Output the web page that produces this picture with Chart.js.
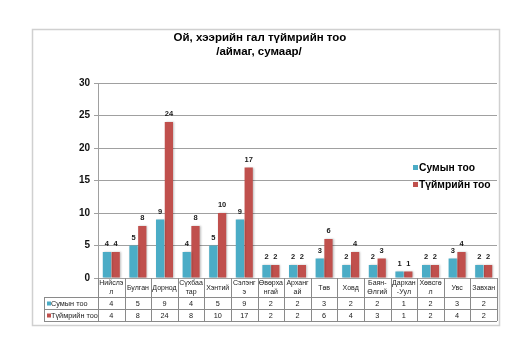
<!DOCTYPE html>
<html><head><meta charset="utf-8">
<script src="https://cdn.jsdelivr.net/npm/chart.js@4"></script>
<style>html,body{margin:0;padding:0;background:#fff}canvas{display:block}</style>
</head><body>
<canvas id="c" width="532" height="353"></canvas>
<script>
const titleLines = ['Ой, хээрийн гал түймрийн тоо', '/аймаг, сумаар/'];
const categories = [['Нийслэ','л'],['Булган'],['Дорнод'],['Сүхбаа','тар'],['Хэнтий'],['Сэлэнг','э'],['Өвөрха','нгай'],['Арханг','ай'],['Төв'],['Ховд'],['Баян-','Өлгий'],['Дархан','-Уул'],['Хөвсгө','л'],['Увс'],['Завхан']];
const seriesNames = ['Сумын тоо','Түймрийн тоо'];
const sumCounts = [4,5,9,4,5,9,2,2,3,2,2,1,2,3,2];
const fireCounts = [4,8,24,8,10,17,2,2,6,4,3,1,2,4,2];
const yMin = 0, yMax = 30, yStep = 5;
const seriesColors = ['#4BACC6','#C0504D'];
const seriesValues = [sumCounts, fireCounts];

const FONT = 'Arial, "Liberation Sans", sans-serif';

const decorPlugin = {
  id: 'decor',
  beforeDraw(chart) {
    const ctx = chart.ctx;
    ctx.save();
    ctx.fillStyle = '#fff';
    ctx.fillRect(0, 0, chart.width, chart.height);
    ctx.strokeStyle = '#d0d0d0';
    ctx.lineWidth = 1.5;
    ctx.strokeRect(32.5, 29.5, 467, 296);
    ctx.restore();
  },
  beforeDatasetsDraw(chart) {
    const ctx = chart.ctx;
    ctx.save();
    ctx.shadowColor = 'rgba(0,0,0,0.25)';
    ctx.shadowBlur = 2;
    ctx.shadowOffsetX = 1;
    ctx.shadowOffsetY = 0;
  },
  afterDatasetsDraw(chart) {
    const ctx = chart.ctx;
    ctx.restore();
    ctx.save();
    ctx.font = 'bold 7.5px ' + FONT;
    ctx.fillStyle = '#1a1a1a';
    ctx.textAlign = 'center';
    ctx.textBaseline = 'middle';
    chart.data.datasets.forEach((ds, di) => {
      const meta = chart.getDatasetMeta(di);
      meta.data.forEach((bar, i) => {
        ctx.fillText(String(ds.data[i]), bar.x, bar.y - 8);
      });
    });
    ctx.restore();
  },
  afterDraw(chart) {
    const ctx = chart.ctx;
    const area = chart.chartArea;
    const xs = chart.scales.x;
    const n = categories.length;
    const colW = (area.right - area.left) / n;
    const catTop = area.bottom;
    const catBot = catTop + 19;
    const r1Bot = catBot + 12;
    const r2Bot = r1Bot + 12;
    const tableLeft = 44;
    ctx.save();
    // title
    ctx.fillStyle = '#000';
    ctx.textAlign = 'center';
    ctx.textBaseline = 'middle';
    ctx.font = 'bold 11.5px ' + FONT;
    ctx.fillText(titleLines[0], 260, 38);
    ctx.fillText(titleLines[1], 259, 52);
    // legend
    ctx.textAlign = 'left';
    ctx.font = 'bold 10.3px ' + FONT;
    seriesNames.forEach((name, i) => {
      const y = 168 + i * 17;
      ctx.fillStyle = seriesColors[i];
      ctx.fillRect(413, y - 3, 5, 5);
      ctx.fillStyle = '#000';
      ctx.fillText(name, 419, y);
    });
    // table lines
    ctx.strokeStyle = '#8a8a8a';
    ctx.lineWidth = 1;
    ctx.beginPath();
    [catBot, r1Bot, r2Bot].forEach(y => {
      ctx.moveTo(tableLeft, Math.round(y) + 0.5);
      ctx.lineTo(area.right, Math.round(y) + 0.5);
    });
    ctx.moveTo(tableLeft + 0.5, Math.round(catBot));
    ctx.lineTo(tableLeft + 0.5, Math.round(r2Bot));
    for (let i = 0; i <= n; i++) {
      const x = Math.round(area.left + i * colW) + 0.5;
      ctx.moveTo(x, catTop);
      ctx.lineTo(x, Math.round(r2Bot));
    }
    ctx.stroke();
    // category labels
    ctx.fillStyle = '#1a1a1a';
    ctx.textAlign = 'center';
    ctx.font = '7px ' + FONT;
    categories.forEach((lines, i) => {
      const cx = xs.getPixelForValue(i);
      const mid = (catTop + catBot) / 2 + 0.5;
      const lh = 9;
      const start = mid - (lines.length - 1) * lh / 2;
      lines.forEach((t, j) => ctx.fillText(t, cx, start + j * lh));
    });
    // value rows
    ctx.font = '7.3px ' + FONT;
    seriesValues.forEach((vals, r) => {
      const top = r === 0 ? catBot : r1Bot;
      const mid = top + 6.5;
      ctx.textAlign = 'center';
      ctx.fillStyle = '#1a1a1a';
      vals.forEach((v, i) => ctx.fillText(String(v), xs.getPixelForValue(i), mid));
      ctx.fillStyle = seriesColors[r];
      ctx.fillRect(47, mid - 2, 4, 4);
      ctx.fillStyle = '#1a1a1a';
      ctx.textAlign = 'left';
      ctx.fillText(seriesNames[r], 51, mid);
    });
    ctx.restore();
  }
};

new Chart(document.getElementById('c'), {
  type: 'bar',
  data: {
    labels: categories,
    datasets: seriesNames.map((name, i) => ({
      label: name,
      data: seriesValues[i],
      backgroundColor: seriesColors[i],
      borderWidth: 0,
      barPercentage: 0.94,
      categoryPercentage: 0.66
    }))
  },
  options: {
    responsive: false,
    animation: false,
    devicePixelRatio: 1,
    layout: { padding: { top: 83, right: 35, bottom: 0, left: 0 } },
    plugins: { legend: { display: false }, title: { display: false }, tooltip: { enabled: false } },
    scales: {
      x: {
        ticks: { display: false },
        grid: { display: false },
        border: { display: true, color: '#a0a0a0' },
        afterFit(s) { s.height = 75; }
      },
      y: {
        min: yMin, max: yMax,
        ticks: { stepSize: yStep, font: { family: FONT, size: 10, weight: 'bold' }, color: '#111', padding: 4 },
        grid: { color: '#a0a0a0', tickLength: 4 },
        border: { display: true, color: '#a0a0a0' },
        afterFit(s) { s.width = 98; }
      }
    }
  },
  plugins: [decorPlugin]
});
</script>
</body></html>
